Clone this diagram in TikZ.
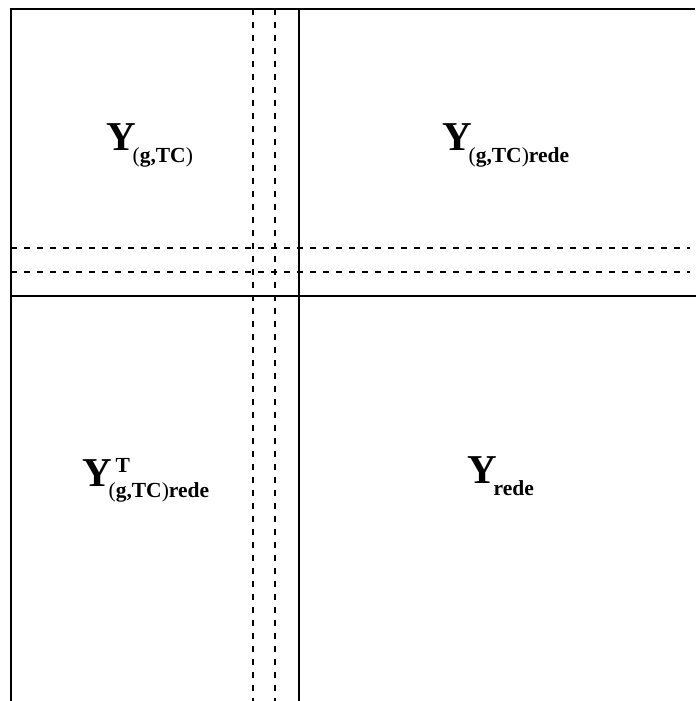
\documentclass[tikz,border=0pt]{standalone}
\usepackage{fontspec}
\setmainfont{Liberation Serif}
\newcommand{\bigY}{{\fontsize{41}{41}\selectfont\bfseries Y}}
\newcommand{\subtx}[1]{{\fontsize{21.5}{21.5}\selectfont #1}}
\tikzset{
  solidline/.style={line width=2pt},
  dashline/.style={line width=1.8pt, dash pattern=on 6pt off 7pt},
  lbl/.style={anchor=base west, inner sep=0pt, outer sep=0pt}
}
\begin{document}
\begin{tikzpicture}[x=1pt,y=-1pt]
\useasboundingbox (0,0) rectangle (696,701);
% solid frame lines
\draw[solidline] (11,701) -- (11,9) -- (695,9);
\draw[solidline] (11,296) -- (696,296);
\draw[solidline] (299,9) -- (299,701);
% dashed lines
\draw[dashline] (253,9) -- (253,701);
\draw[dashline] (275,9) -- (275,701);
\draw[dashline] (11,248) -- (690,248);
\draw[dashline] (11,272) -- (690,272);
% labels
\node[lbl] (a) at (106,150) {\bigY\kern-3pt\raisebox{-12pt}{\subtx{(\textbf{g,TC})}}};
\node[lbl] (b) at (442,150) {\bigY\kern-3pt\raisebox{-12pt}{\subtx{(\textbf{g,TC})\textbf{rede}}}};
\node[lbl] (c) at (82,486) {\bigY\kern-3pt\rlap{\kern7pt\raisebox{14pt}{\subtx{\textbf{T}}}}\raisebox{-11pt}{\subtx{(\textbf{g,TC})\textbf{rede}}}};
\node[lbl] (d) at (467,483) {\bigY\kern-3pt\raisebox{-12pt}{\subtx{\textbf{rede}}}};
\end{tikzpicture}
\end{document}
